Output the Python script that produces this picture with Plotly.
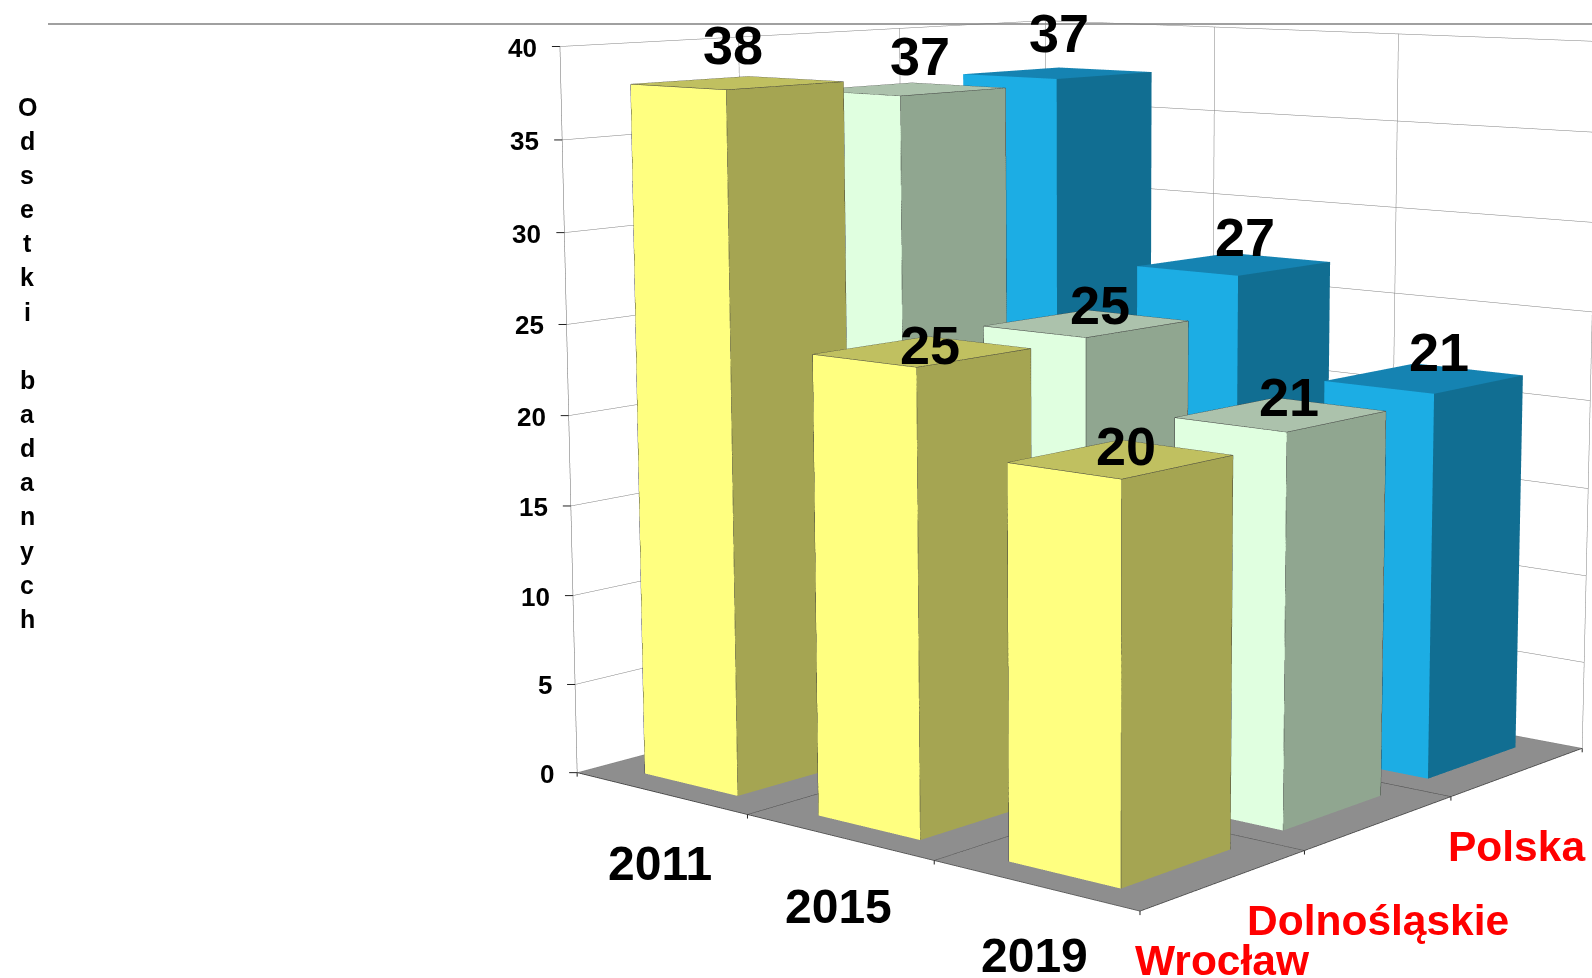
import numpy as np
import plotly.graph_objects as go

years = ["2011", "2015", "2019"]
regions = ["Wrocław", "Dolnośląskie", "Polska"]
wroclaw = [38.0, 24.6, 20.4]
dolnoslaskie = [37.0, 24.7, 21.0]
polska = [37.3, 26.8, 21.4]
z_ticks = [0, 5, 10, 15, 20, 25, 30, 35, 40]
axis_title_letters = list("Odsetki") + [""] + list("badanych")

# Camera and page placement. Plotly's field of view is fixed, so the long lens of
# the reference needs a scene taller than the window, shifted to sit in the window.
WID, HGT = 2173, 2856
LEFT, TOP = 0, -1020
BAR_HX, BAR_HY = 0.2732, 0.3307
FONT = "Liberation Sans"
px = lambda x: (x - LEFT) / WID
py = lambda y: 1 - (y - TOP) / HGT

series = [wroclaw, dolnoslaskie, polska]
colors = [("#FFFF80", "#A5A552", "#C0C060"), ("#E0FFE0", "#90A690", "#ACC2AC"), ("#1CADE4", "#116E92", "#1583B2")]
label_dx = [[-5, 8, 5], [14, 13, 8], [1, 11, 15]]
label_dy = [[-12, 20, 13], [-7, 7, 9], [-14, -1, 0]]
region_drop = [81, 98, 75]

data = []
for j, vals in enumerate(series):
    for i, v in enumerate(vals):
        x0, x1 = i + .5 - BAR_HX, i + .5 + BAR_HX
        y0, y1 = j + .5 - BAR_HY, j + .5 + BAR_HY
        data.append(go.Mesh3d(
            x=[x0, x1, x1, x0, x0, x1, x1, x0], y=[y0, y0, y1, y1, y0, y0, y1, y1], z=[0, 0, 0, 0, v, v, v, v],
            i=[0, 0, 1, 1, 4, 4], j=[1, 5, 2, 6, 5, 6], k=[5, 4, 6, 5, 6, 7],
            facecolor=[colors[j][0]] * 2 + [colors[j][1]] * 2 + [colors[j][2]] * 2, flatshading=True,
            lighting=dict(ambient=1, diffuse=0, specular=0, fresnel=0, roughness=1), hoverinfo="skip", showscale=False))
        if j < 2:
            data.append(go.Scatter3d(
                x=[x0, x1, x1, x0, x0, None, x0, x0, None, x1, x1, None, x1, x1],
                y=[y0, y0, y1, y1, y0, None, y0, y0, None, y0, y0, None, y1, y1],
                z=[v, v, v, v, v, None, 0, v, None, 0, v, None, 0, v],
                mode="lines", line=dict(color="#3a3a3a", width=1), hoverinfo="skip", showlegend=False))

# category divisions on the floor
fx, fy, fz = [], [], []
for t in (1, 2):
    fx += [t, t, None, 0, 3, None]
    fy += [0, 3, None, t, t, None]
    fz += [0, 0, None, 0, 0, None]
data.append(go.Scatter3d(x=fx, y=fy, z=fz, mode="lines", line=dict(color="#404040", width=1), hoverinfo="skip", showlegend=False))
edge_x = [0, 3, 3]
edge_y = [0, 0, 3]
data.append(go.Scatter3d(x=edge_x, y=edge_y, z=[0, 0, 0], mode="lines", line=dict(color="#303030", width=1.5), hoverinfo="skip", showlegend=False))

ann = []
tick = lambda x, y, z, ax, ay: dict(x=x, y=y, z=z, text=" ", showarrow=True, arrowhead=0, arrowwidth=1, arrowcolor="#222222",
                                    ax=ax, ay=ay, standoff=0, startstandoff=0)
for t in z_ticks:
    ann.append(tick(0, 0, t, -11, 0))
    ann.append(dict(x=0, y=0, z=t, text="<b>%d</b>" % t, showarrow=False, xanchor="right", xshift=-21, yshift=-1,
                    font=dict(size=26, color="black", family=FONT)))
for t in (0, 1, 2, 3):
    ann.append(tick(t, 0, 0, 0, 14))
for t in (1, 2, 3):
    ann.append(tick(3, t, 0, 0, 14))
for j, vals in enumerate(series):
    for i, v in enumerate(vals):
        ann.append(dict(x=i + .5, y=j + .5, z=v, text="<b>%d</b>" % round(v), showarrow=False, yanchor="bottom",
                        xshift=label_dx[j][i], yshift=-6 - label_dy[j][i],
                        font=dict(size=54, color="black", family=FONT)))
for i, name in enumerate(years):
    ann.append(dict(x=i + .5, y=0, z=0, text="<b>%s</b>" % name, showarrow=False, yshift=-70,
                    font=dict(size=48, color="black", family=FONT)))
for j, name in enumerate(regions):
    ann.append(dict(x=3, y=j + .5, z=0, text="<b>%s</b>" % name, showarrow=False, xshift=-2, yshift=-region_drop[j],
                    font=dict(size=42.5, color="red", family=FONT)))

ax_common = dict(showticklabels=False, title="", showspikes=False, showline=True, linecolor="#666666", ticks="",
                 gridcolor="#808080", gridwidth=1, zeroline=False, showbackground=False)
fig = go.Figure(data)
letters = [dict(x=px(27.4), y=py(106.6 + 34.15 * k), xref="paper", yref="paper", xanchor="center", yanchor="middle",
                text="<b>%s</b>" % l, showarrow=False, font=dict(size=25, color="black", family=FONT))
           for k, l in enumerate(axis_title_letters) if l]
fig.update_layout(
    width=WID, height=HGT, margin=dict(l=0, r=0, t=0, b=0), paper_bgcolor="white",
    scene=dict(
        domain=dict(x=[0, 1], y=[0, 1]), aspectmode="manual", aspectratio=dict(x=1, y=1.0032, z=1.0011),
        camera=dict(eye=dict(x=3.0036, y=-3.6176, z=0.7421), center=dict(x=0, y=0, z=0),
                    up=dict(x=-0.0007, y=-0.0008, z=1), projection=dict(type="perspective")),
        xaxis=dict(range=[0, 3], tickvals=[0, 1, 2, 3], **ax_common),
        yaxis=dict(range=[0, 3], tickvals=[0, 1, 2, 3], **ax_common),
        zaxis=dict(range=[0, 40], tickvals=z_ticks, **{**ax_common, "showbackground": True, "backgroundcolor": "#8E8E8E"}),
        annotations=ann),
    shapes=[dict(type="line", xref="paper", yref="paper", x0=px(48), x1=px(1592), y0=py(24), y1=py(24),
                 line=dict(color="#808080", width=1.5))],
    annotations=letters)
js = """
var h=document.documentElement, b=document.body;
h.style.overflow='hidden'; h.style.height='978px';
b.style.margin='0'; b.style.overflow='hidden'; b.style.height='978px';
var g=document.getElementById('{plot_id}');
g.style.position='absolute'; g.style.left='%dpx'; g.style.top='%dpx';
""" % (LEFT, TOP)
fig.write_html("out.html", post_script=js, config=dict(displayModeBar=False))
